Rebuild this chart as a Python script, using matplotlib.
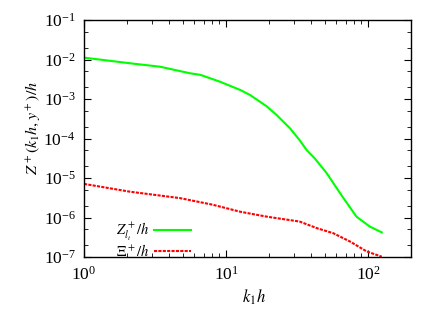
import matplotlib
matplotlib.use('Agg')
import matplotlib.pyplot as plt
from matplotlib.ticker import LogLocator, NullFormatter

plt.rcParams['font.family'] = ['Liberation Serif', 'DejaVu Serif']
plt.rcParams['mathtext.fontset'] = 'stix'

# green: Z+_lt / h
kz = [1, 2.21, 3.43, 5.58, 6.6, 9.07, 12.6, 14.8, 19.4, 22.8, 28.3, 33, 37,
      42, 51, 66, 83, 103, 125]
z = [1.12e-2, 7.9e-3, 6.6e-3, 4.5e-3, 4.1e-3, 2.75e-3, 1.7e-3, 1.26e-3,
     6.5e-4, 3.9e-4, 1.8e-4, 9.1e-5, 5.1e-5, 3.2e-5, 1.35e-5, 3.4e-6,
     1.05e-6, 5.9e-7, 4.2e-7]

# red: Xi+ / h
kx = [1, 2.11, 4.74, 8.1, 12.6, 19.4, 33, 43.5, 57, 75, 98, 125]
xi = [7.1e-6, 4.5e-6, 3.1e-6, 2.1e-6, 1.4e-6, 1.05e-6, 7.9e-7, 5.4e-7,
      4.0e-7, 2.45e-7, 1.38e-7, 1.02e-7]

fig = plt.figure(figsize=(4.36, 3.09), dpi=100)
ax = fig.add_axes([0.1927, 0.1683, 0.7493, 0.7667])

ax.plot(kz, z, color='#00ff00', lw=1.5, label=r'$Z^+_{l_t}/h$')
ax.plot(kx, xi, color='#ff0000', lw=1.5, ls=(0, (1.5, 0.6)), label=r'$\Xi^+/h$')

ax.set_xscale('log')
ax.set_yscale('log')
ax.set_xlim(1, 200)
ax.set_ylim(1e-7, 1e-1)

ax.yaxis.set_major_locator(LogLocator(base=10, numticks=10))
ax.yaxis.set_minor_locator(LogLocator(base=10, subs=(2, 5), numticks=10))
ax.yaxis.set_minor_formatter(NullFormatter())
ax.xaxis.set_minor_locator(LogLocator(base=10, subs=range(2, 10), numticks=10))
ax.xaxis.set_minor_formatter(NullFormatter())

ax.tick_params(which='both', direction='in', top=True, right=True, labelsize=12.5)
ax.tick_params(which='major', length=5, width=0.8, pad=6)
ax.tick_params(which='minor', length=3, width=0.6)
for sp in ax.spines.values():
    sp.set_linewidth(1.0)

ax.set_xlabel(r'$k_1h$', fontsize=12)
ax.set_ylabel(r'$Z^+(k_1h, y^+)/h$', fontsize=11.5)
ax.xaxis.set_label_coords(0.52, -0.13)
ax.yaxis.set_label_coords(-0.13, 0.545)

ax.legend(loc='lower right', bbox_to_anchor=(0.36, -0.05), frameon=False,
          markerfirst=False, handlelength=2.6, fontsize=10.5, labelspacing=0.0,
          handletextpad=0.3, borderpad=0.2)

fig.savefig('out.png', dpi=100)
